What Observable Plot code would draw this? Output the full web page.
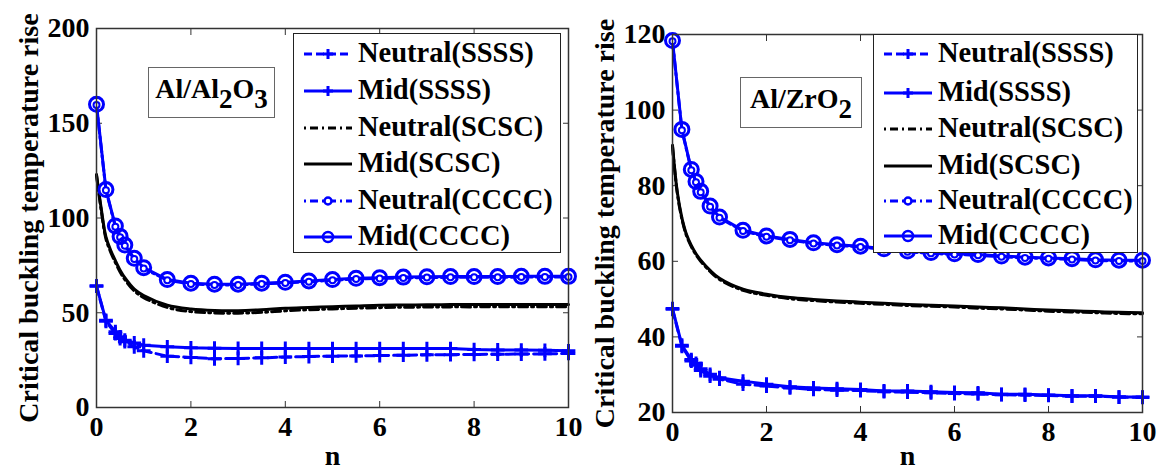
<!DOCTYPE html>
<html>
<head>
<meta charset="utf-8">
<script src="https://cdn.jsdelivr.net/npm/d3@7"></script>
<script src="https://cdn.jsdelivr.net/npm/@observablehq/plot@0.6"></script>
<style>
  body { margin: 0; background: #fff; }
  #wrap { position: relative; width: 1160px; height: 470px; overflow: hidden;
          font-family: "Liberation Serif", "Times New Roman", Times, serif; font-weight: bold; color: #000; }
  .panel { position: absolute; top: 0; width: 580px; height: 470px; }
  .panel svg { overflow: visible; }
  .legend { position: absolute; background: #fff; border: 1.5px solid #222; box-sizing: border-box; }
  .row { position: absolute; left: 0; height: 0; }
  .row svg { position: absolute; left: 8px; top: -10px; }
  .row span { position: absolute; left: 64px; top: 0; transform: translateY(-52%); font-size: 28.5px; white-space: nowrap; line-height: 1; }
  .tag { position: absolute; background: #fff; border: 1.5px solid #666; box-sizing: border-box;
         font-size: 28px; display: flex; align-items: center; justify-content: center; padding-bottom: 8px; }
  .tag sub { font-size: 27px; vertical-align: -10px; line-height: 0; }
</style>
</head>
<body>
<div id="wrap"></div>
<script>
// ---- data ----
const n = [0, 0.2, 0.4, 0.5, 0.6, 0.8, 1, 1.5, 2, 2.5, 3, 3.5, 4, 4.5, 5, 5.5, 6, 6.5, 7, 7.5, 8, 8.5, 9, 9.5, 10];
const nFine = [0, 0.1, 0.2, 0.3, 0.4, 0.5, 0.6, 0.8, 1, 1.5, 2, 2.5, 3, 3.5, 4, 4.5, 5, 5.5, 6, 6.5, 7, 7.5, 8, 8.5, 9, 9.5, 10];
const xTicks = [0, 2, 4, 6, 8, 10];

// Al/Al2O3
const yTicksA = [0, 50, 100, 150, 200];
const midCCCC_A = [160, 115, 95.8, 90.3, 85.7, 78.7, 73.8, 67.5, 65.6, 65.1, 65.1, 65.6, 66.1, 66.8, 67.5, 68.2, 68.5, 68.8, 69.0, 69.1, 69.1, 69.1, 69.2, 69.2, 69.2];
const neuCCCC_A = [159.6, 114.6, 95.4, 89.9, 85.3, 78.3, 73.4, 67.1, 65.2, 64.7, 64.7, 65.2, 65.7, 66.4, 67.1, 67.8, 68.1, 68.4, 68.6, 68.7, 68.7, 68.7, 68.8, 68.8, 68.8];
const midSSSS_A = [64.2, 46, 40, 37.3, 35.5, 34.1, 32.9, 32, 31.5, 31.3, 31.2, 31.2, 31.2, 31.1, 31.1, 31.1, 31.1, 31.1, 31.1, 31.1, 30.6, 30.4, 30.3, 30.2, 29.9];
const neuSSSS_A = [64, 45.5, 39, 36.4, 34.7, 32, 29.9, 27.1, 26.4, 25.7, 25.9, 26.2, 26.6, 26.9, 27.1, 27.2, 27.4, 27.6, 27.8, 27.9, 28, 28.1, 28.2, 28.3, 28.5];
const midSCSC_A = [123, 105, 90, 83, 77.5, 72.5, 68.5, 62.5, 59.1, 54, 52, 51.2, 51.1, 51.6, 52.4, 52.8, 53.2, 53.6, 54, 54.1, 54.2, 54.3, 54.3, 54.3, 54.3, 54.3, 54.3];
const neuSCSC_A = [122.5, 104, 89, 82, 76.5, 71.5, 67.5, 61.5, 58, 52.8, 50.6, 49.9, 49.8, 50.2, 51, 51.6, 52, 52.4, 52.7, 52.9, 53, 53.1, 53.1, 53.2, 53.2, 53.2, 53.2];

// Al/ZrO2
const yTicksZ = [20, 40, 60, 80, 100, 120];
const midCCCC_Z = [118.4, 94.9, 84.3, 81.1, 78.5, 74.6, 71.7, 68.2, 66.7, 65.8, 64.9, 64.4, 64, 63.3, 62.7, 62.3, 62, 61.8, 61.4, 61.1, 60.9, 60.7, 60.4, 60.3, 60.3];
const neuCCCC_Z = [118.2, 94.7, 84.1, 80.9, 78.3, 74.4, 71.5, 68.0, 66.5, 65.6, 64.7, 64.2, 63.8, 63.1, 62.5, 62.1, 61.8, 61.6, 61.2, 60.9, 60.7, 60.5, 60.2, 60.1, 60.1];
const midSSSS_Z = [47.5, 37.8, 34, 33, 31.6, 30.1, 29.2, 28.3, 27.5, 26.8, 26.5, 26.3, 26.1, 25.7, 25.7, 25.5, 25.3, 25.2, 24.8, 24.8, 24.6, 24.4, 24.4, 24.1, 24.1];
const neuSSSS_Z = [47.3, 37.5, 33.6, 32.5, 31.1, 29.6, 28.8, 27.5, 27, 26.5, 26.1, 25.9, 25.8, 25.5, 25.4, 25.2, 25.0, 24.9, 24.7, 24.6, 24.5, 24.3, 24.3, 24.1, 24.0];
const midSCSC_Z = [90.7, 78.5, 71.5, 67, 64.2, 62, 60.3, 57.6, 55.5, 52.6, 51.3, 50.4, 49.9, 49.5, 49.2, 48.9, 48.6, 48.4, 48.2, 47.9, 47.7, 47.4, 47.1, 46.9, 46.7, 46.5, 46.4];
const neuSCSC_Z = [90.4, 78.2, 71.2, 66.7, 63.9, 61.7, 60.0, 57.3, 55.2, 52.3, 51.0, 50.1, 49.6, 49.2, 48.9, 48.6, 48.3, 48.1, 47.9, 47.6, 47.4, 47.1, 46.8, 46.6, 46.4, 46.2, 46.1];

const seriesNames = ["Neutral(SSSS)", "Mid(SSSS)", "Neutral(SCSC)", "Mid(SCSC)", "Neutral(CCCC)", "Mid(CCCC)"];
const materials = [["Al/Al", "2", "O", "3"], ["Al/ZrO", "2"]];

const BLUE = "#0000ff";
const SERIF = "'Liberation Serif', 'Times New Roman', Times, serif";

function makePlot(o) {
  return Plot.plot({
    width: 580, height: 470,
    marginLeft: o.ml, marginRight: o.mr, marginTop: o.mt, marginBottom: o.mb,
    x: { domain: [0, 10] },
    y: { domain: o.yDomain },
    style: { fontFamily: SERIF, fontWeight: "bold", fontSize: "28px", color: "#000", background: "transparent", overflow: "visible" },
    marks: [
      // inward ticks on all four sides
      Plot.axisX({ anchor: "bottom", ticks: xTicks, tickSize: -6, tickFormat: () => "", label: null, stroke: "#333" }),
      Plot.axisX({ anchor: "top", ticks: xTicks, tickSize: -6, tickFormat: () => "", label: null, stroke: "#333" }),
      Plot.axisY({ anchor: "left", ticks: o.yTicks, tickSize: -6, tickFormat: () => "", label: null, stroke: "#333" }),
      Plot.axisY({ anchor: "right", ticks: o.yTicks, tickSize: -6, tickFormat: () => "", label: null, stroke: "#333" }),
      // tick labels and axis titles
      Plot.axisX({ anchor: "bottom", ticks: xTicks, tickSize: 0, tickPadding: 9, label: "n", labelAnchor: "center", labelOffset: o.xLabelOffset, labelArrow: false }),
      Plot.axisY({ anchor: "left", ticks: o.yTicks, tickSize: 0, tickPadding: 7, label: "Critical buckling temperature rise", labelAnchor: "center", labelOffset: 78, labelArrow: false }),
      // SCSC
      Plot.line(o.midK, { x: nFine, y: o.midK, stroke: "#000", strokeWidth: 3, curve: "catmull-rom" }),
      Plot.line(o.neuK, { x: nFine, y: o.neuK, stroke: "#000", strokeWidth: 3, strokeDasharray: "9,4,2,4", curve: "catmull-rom" }),
      // SSSS
      Plot.line(o.neuS, { x: n, y: o.neuS, stroke: BLUE, strokeWidth: 3, strokeDasharray: "9,5" }),
      Plot.line(o.midS, { x: n, y: o.midS, stroke: BLUE, strokeWidth: 3 }),
      Plot.dot(o.neuS, { x: n, y: o.neuS, symbol: "plus", r: 4.5, stroke: BLUE, strokeWidth: 3 }),
      Plot.dot(o.midS, { x: n, y: o.midS, symbol: "plus", r: 4.5, stroke: BLUE, strokeWidth: 3 }),
      // CCCC
      Plot.line(o.neuC, { x: n, y: o.neuC, stroke: BLUE, strokeWidth: 3, strokeDasharray: "9,4,2,4" }),
      Plot.line(o.midC, { x: n, y: o.midC, stroke: BLUE, strokeWidth: 3 }),
      Plot.dot(o.neuC, { x: n, y: o.neuC, r: 3, stroke: BLUE, strokeWidth: 2, fill: "white" }),
      Plot.dot(o.midC, { x: n, y: o.midC, r: 7, stroke: BLUE, strokeWidth: 3, fill: "none" }),
      Plot.frame({ stroke: "#333", strokeWidth: 1.5 })
    ]
  });
}

function swatch(i) {
  const svg = d3.create("svg").attr("width", 50).attr("height", 20);
  const color = i === 2 || i === 3 ? "#000" : BLUE;
  const dash = i === 0 ? "8,4" : (i === 2 || i === 4) ? "2,4,8,4" : null;
  svg.append("line").attr("x1", 2).attr("x2", 50).attr("y1", 10).attr("y2", 10)
     .attr("stroke", color).attr("stroke-width", 3).attr("stroke-dasharray", dash);
  if (i === 0 || i === 1) {
    svg.append("path").attr("d", "M21,10H31M26,5V15").attr("stroke", BLUE).attr("stroke-width", 3);
  } else if (i === 4) {
    svg.append("circle").attr("cx", 26).attr("cy", 10).attr("r", 3.5).attr("fill", "white").attr("stroke", BLUE).attr("stroke-width", 2.5);
  } else if (i === 5) {
    svg.append("circle").attr("cx", 26).attr("cy", 10).attr("r", 5).attr("fill", "none").attr("stroke", BLUE).attr("stroke-width", 2.5);
  }
  return svg.node();
}

function addLegend(parent, box, rowYs) {
  const lg = document.createElement("div");
  lg.className = "legend";
  Object.assign(lg.style, { left: box[0] + "px", top: box[1] + "px", width: box[2] + "px", height: box[3] + "px" });
  seriesNames.forEach((name, i) => {
    const r = document.createElement("div");
    r.className = "row";
    r.style.top = rowYs[i] + "px";
    r.appendChild(swatch(i));
    const s = document.createElement("span");
    s.textContent = name;
    r.appendChild(s);
    lg.appendChild(r);
  });
  parent.appendChild(lg);
}

function addTag(parent, box, parts) {
  const t = document.createElement("div");
  t.className = "tag";
  Object.assign(t.style, { left: box[0] + "px", top: box[1] + "px", width: box[2] + "px", height: box[3] + "px" });
  let html = "";
  parts.forEach((p, i) => { html += i % 2 ? `<sub>${p}</sub>` : p; });
  t.innerHTML = `<span>${html}</span>`;
  parent.appendChild(t);
}

const wrap = document.getElementById("wrap");

const pA = document.createElement("div");
pA.className = "panel"; pA.style.left = "0px";
pA.appendChild(makePlot({ ml: 96, mr: 12, mt: 28, mb: 63, yDomain: [0, 200], yTicks: yTicksA, xLabelOffset: 57,
  midC: midCCCC_A, neuC: neuCCCC_A, midS: midSSSS_A, neuS: neuSSSS_A, midK: midSCSC_A, neuK: neuSCSC_A }));
wrap.appendChild(pA);
addTag(pA, [148, 67, 127, 51], materials[0]);
addLegend(pA, [293, 33, 268, 220], [20, 57, 94, 130, 167, 203]);

const pZ = document.createElement("div");
pZ.className = "panel"; pZ.style.left = "580px";
pZ.appendChild(makePlot({ ml: 92, mr: 18, mt: 34, mb: 58, yDomain: [20, 120], yTicks: yTicksZ, xLabelOffset: 52,
  midC: midCCCC_Z, neuC: neuCCCC_Z, midS: midSSSS_Z, neuS: neuSSSS_Z, midK: midSCSC_Z, neuK: neuSCSC_Z }));
wrap.appendChild(pZ);
addTag(pZ, [160, 77, 122, 51], materials[1]);
addLegend(pZ, [293, 34, 265, 219], [19, 58, 94, 131, 166, 201]);
</script>
</body>
</html>
